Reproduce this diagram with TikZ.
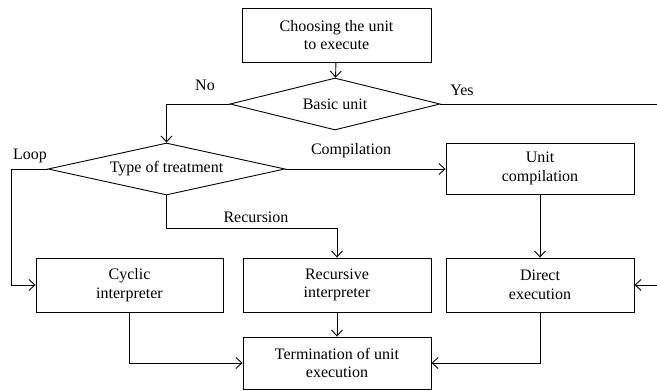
\documentclass[tikz,border=0pt]{standalone}
\usepackage{fontspec}
\setmainfont{Liberation Serif}
\usetikzlibrary{arrows.meta,shapes.geometric}
\begin{document}
\begin{tikzpicture}[x=1pt,y=-1pt,line width=0.9pt,
  txt/.style={font=\fontsize{16}{18.5}\selectfont},
  box/.style={txt,draw,align=center,inner sep=0pt,minimum height=54pt,minimum width=188pt},
  dia/.style={txt,draw,diamond,inner sep=0pt,minimum height=52pt},
  lbl/.style={txt,inner sep=0pt},
  arr/.style={-{Straight Barb[length=6pt,width=11pt,line width=0.9pt]}}]
\useasboundingbox (0,0) rectangle (657,391);
\node[box,minimum width=189pt] (top) at (336.5,35) {Choosing the unit\\to execute};
\node[dia,minimum width=210pt,aspect=4] (basic) at (335,104) {Basic unit};
\node[dia,minimum width=237pt,aspect=4.5] (type) at (166.5,169) {Type of treatment};
\node[box,minimum height=51pt] (unitc) at (540,168.5) {Unit\\compilation};
\node[box,minimum width=187pt] (cyc) at (129.5,285) {Cyclic\\interpreter};
\node[box] (rec) at (337,285) {Recursive\\interpreter};
\node[box] (dir) at (540,285) {Direct\\execution};
\node[box,minimum height=52pt] (term) at (337,363) {Termination of unit\\execution};
\coordinate (yesout) at (657,104);
\coordinate (yesin) at (657,285);
\coordinate (loopc) at (11,169);
\coordinate (recc) at (337,228);
\node[lbl] (no) at (205,85) {No};
\node[lbl] (yes) at (462,90) {Yes};
\node[lbl] (loop) at (30,156) {Loop};
\node[lbl] (comp) at (351,151) {Compilation};
\node[lbl] (recl) at (256,217) {Recursion};
\draw[arr] (top) -- (basic);
\draw[arr] (basic.west) -| (type.north);
\draw (basic.east) -- (yesout);
\draw[arr] (type.west) -- (loopc) |- (cyc.west);
\draw[arr] (type.east) -- (type.east -| unitc.west);
\draw[arr] (type.south) |- (recc) -- (rec.north);
\draw[arr] (unitc) -- (dir);
\draw[arr] (yesin) -- (dir.east);
\draw[arr] (cyc.south) |- (term.west);
\draw[arr] (rec) -- (term);
\draw[arr] (dir.south) |- (term.east);
\end{tikzpicture}
\end{document}
